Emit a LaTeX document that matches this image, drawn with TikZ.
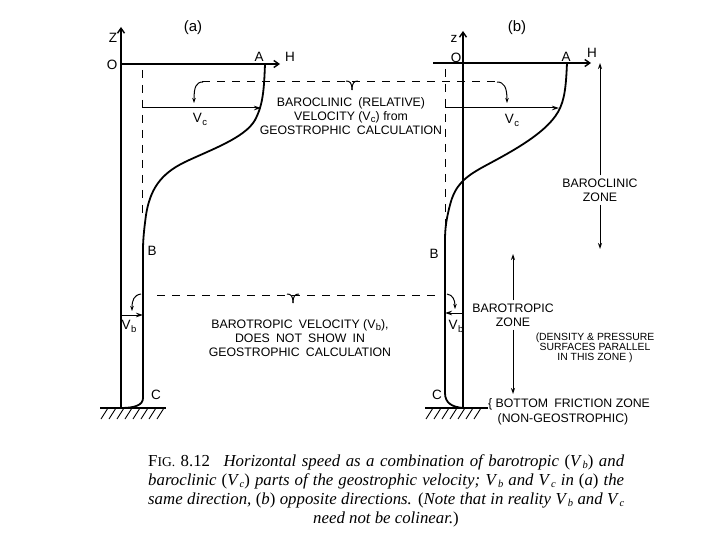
\documentclass[tikz,border=0pt]{standalone}
\usepackage{fontspec}
\setmainfont{Liberation Serif}
\setsansfont{Liberation Sans}
\usetikzlibrary{arrows.meta}
\newcommand{\Vs}[1]{V\kern0.3pt\raisebox{-0.4ex}{\fontsize{9.5}{10}\selectfont #1}}
\newcommand{\Vi}[1]{\textit{V}\kern0.5pt\raisebox{-0.3ex}{\fontsize{10.5}{11}\selectfont\textit{#1}}}
\begin{document}
\begin{tikzpicture}[x=1pt,y=-1pt,
  lab/.style={font=\sffamily\fontsize{13.5}{14}\selectfont, inner sep=0pt},
  txt/.style={font=\sffamily\fontsize{12.3}{14}\selectfont, inner sep=0pt, align=center},
  smalltxt/.style={font=\sffamily\fontsize{10.4}{10}\selectfont, inner sep=0pt, align=center},
  captxt/.style={font=\fontsize{16.8}{18}\selectfont, inner sep=0pt},
  axis/.style={line width=1.4pt, -{Straight Barb[length=5pt,width=7pt]}},
  prof/.style={line width=1.8pt},
  dsh/.style={line width=1pt, dash pattern=on 8pt off 7pt},
  vel/.style={line width=1pt, -{Stealth[length=7pt,width=4.5pt]}},
  hook/.style={line width=1pt, -{Stealth[length=5pt,width=3.5pt]}},
  zone/.style={line width=1pt, -{Stealth[length=6pt,width=4pt]}, shorten <=3pt},
  gnd/.style={line width=1.3pt},
  hatch/.style={line width=0.9pt},
  brc/.style={line width=1pt},
]
\useasboundingbox (0,0) rectangle (720,540);

% ---------------- panel (a) ----------------
\node[lab, font=\sffamily\fontsize{15}{16}\selectfont] (ta) at (193,28) {(a)};
\coordinate (zaB) at (121,408);
\coordinate (zaT) at (121,27);
\draw[axis] (zaB) -- (zaT);
\node[lab] (za) at (113,38) {Z};
\node[lab] (Oa) at (112,65) {O};
\coordinate (Ha0) at (121,64);
\coordinate (Ha1) at (280,64);
\draw[axis] (Ha0) -- (Ha1);
\node[lab] (Aa) at (259,57) {A};
\node[lab] (Hla) at (290,57) {H};
\node[lab] (Ba) at (152,251) {B};
\node[lab] (Ca) at (156,395) {C};

% profile (a)
\draw[prof] (265,64) .. controls (264,90) and (263,105) .. (255,120)
  .. controls (245,138) and (210,150) .. (185,162)
  .. controls (160,174) and (150,190) .. (146,215)
  .. controls (144,230) and (143,240) .. (143,250) -- (143,398)
  .. controls (143,405) and (135,408) .. (121,408);
\draw[dsh] (142,70) -- (142,218);

% velocities (a)
\coordinate (vca0) at (142,108);
\coordinate (vca1) at (261,108);
\draw[vel] (vca0) -- (vca1);
\node[lab] (vca) at (200,119) {\Vs{c}};
\coordinate (vba0) at (121,315);
\coordinate (vba1) at (143,315);
\draw[vel] (vba0) -- (vba1);
\node[lab] (vba) at (129,326) {\Vs{b}};

% ground (a)
\draw[gnd] (100,408) -- (166,408);
\foreach \x in {108,116,...,164} \draw[hatch] (\x,408) -- (\x-7,419);

% ---------------- panel (b) ----------------
\node[lab, font=\sffamily\fontsize{15}{16}\selectfont] (tb) at (517,28) {(b)};
\coordinate (zbB) at (463,408);
\coordinate (zbT) at (463,31);
\draw[axis] (zbB) -- (zbT);
\node[lab] (zb) at (454,39) {z};
\node[lab] (Ob) at (456,58) {O};
\coordinate (Hb0) at (433,63);
\coordinate (Hb1) at (591,63);
\draw[axis] (Hb0) -- (Hb1);
\node[lab] (Ab) at (566,57) {A};
\node[lab] (Hlb) at (592,53) {H};
\node[lab] (Bb) at (434,254) {B};
\node[lab] (Cb) at (437,395) {C};

% profile (b)
\draw[prof] (567,63) .. controls (566,85) and (565,100) .. (558,112)
  .. controls (545,135) and (505,155) .. (483,167)
  .. controls (465,177) and (455,185) .. (450,205)
  .. controls (446,220) and (445,230) .. (445,240) -- (445,393)
  .. controls (445,403) and (452,407) .. (463,408);
\draw[dsh] (445,69) -- (445,225);

% velocities (b)
\coordinate (vcb0) at (445,108);
\coordinate (vcb1) at (559,108);
\draw[vel] (vcb0) -- (vcb1);
\node[lab] (vcb) at (512,120) {\Vs{c}};
\coordinate (vbb0) at (463,313);
\coordinate (vbb1) at (445,313);
\draw[vel] (vbb0) -- (vbb1);
\node[lab] (vbb) at (456,326) {\Vs{b}};

% ground (b)
\draw[gnd] (425,408) -- (488,408);
\foreach \x in {433,441,...,487} \draw[hatch] (\x,408) -- (\x-7,419);

% ---------------- dashed levels ----------------
\draw[dsh] (202,82) -- (498,82);
\draw[hook] (203,82) .. controls (196,82) and (194,87) .. (194,103);
\draw[hook] (497,82) .. controls (504,82) and (507,87) .. (507,103);
\draw[brc] (346,81) .. controls (350,81) and (352,83) .. (352,90);
\draw[brc] (358,81) .. controls (354,81) and (352,83) .. (352,90);

\draw[dsh] (157,295) -- (437,295);
\draw[hook] (141,294) .. controls (134,295) and (132,300) .. (132,311);
\draw[hook] (447,294) .. controls (453,295) and (455,300) .. (455,309);
\draw[brc] (287,294) .. controls (291,294) and (293,296) .. (293,303);
\draw[brc] (299,294) .. controls (295,294) and (293,296) .. (293,303);

% ---------------- texts ----------------
\node[txt] (bcl) at (351,116) {BAROCLINIC\enspace(RELATIVE)\\VELOCITY (\Vs{c}) from\\GEOSTROPHIC\enspace CALCULATION};
\node[txt] (btr) at (300,338) {BAROTROPIC\enspace VELOCITY (\Vs{b}),\\DOES\enspace NOT\enspace SHOW\enspace IN\\GEOSTROPHIC\enspace CALCULATION};

% zones
\coordinate (bzT) at (600,63);
\coordinate (bzB) at (600,249);
\node[txt] (bcz) at (600,190) {BAROCLINIC\\ZONE};
\draw[zone] (bcz.north) -- (bzT);
\draw[zone] (bcz.south) -- (bzB);

\coordinate (tzT) at (513,254);
\coordinate (tzB) at (513,394);
\node[txt] (btz) at (513,315) {BAROTROPIC\\ZONE};
\draw[zone] (btz.north) -- (tzT);
\draw[zone] (btz.south) -- (tzB);

\node[smalltxt] (dens) at (595,348) {(DENSITY \& PRESSURE\\SURFACES PARALLEL\\IN THIS ZONE )};
\node[txt, anchor=west] (bfz) at (488,404) {\{ BOTTOM\enspace FRICTION ZONE};
\node[txt] (ngeo) at (563,419) {(NON-GEOSTROPHIC)};

% ---------------- caption ----------------
\node[captxt, anchor=west] (cap1) at (148,462) {\hbox to 476pt{F{\fontsize{13.5}{14}\selectfont IG.} 8.12\hskip 0.8em \textit{Horizontal speed as a combination of barotropic} (\Vi{b}) \textit{and}}};
\node[captxt, anchor=west] (cap2) at (148,481) {\hbox to 476pt{\textit{baroclinic} (\Vi{c}) \textit{parts of the geostrophic velocity;} \Vi{b} \textit{and} \Vi{c} \textit{in} (\textit{a}) \textit{the}}};
\node[captxt, anchor=west] (cap3) at (148,500) {\hbox to 476pt{\textit{same direction,} (\textit{b}) \textit{opposite directions.} (\textit{Note that in reality} \Vi{b} \textit{and} \Vi{c}}};
\node[captxt] (cap4) at (386,519) {\textit{need not be colinear.})};
\end{tikzpicture}
\end{document}
